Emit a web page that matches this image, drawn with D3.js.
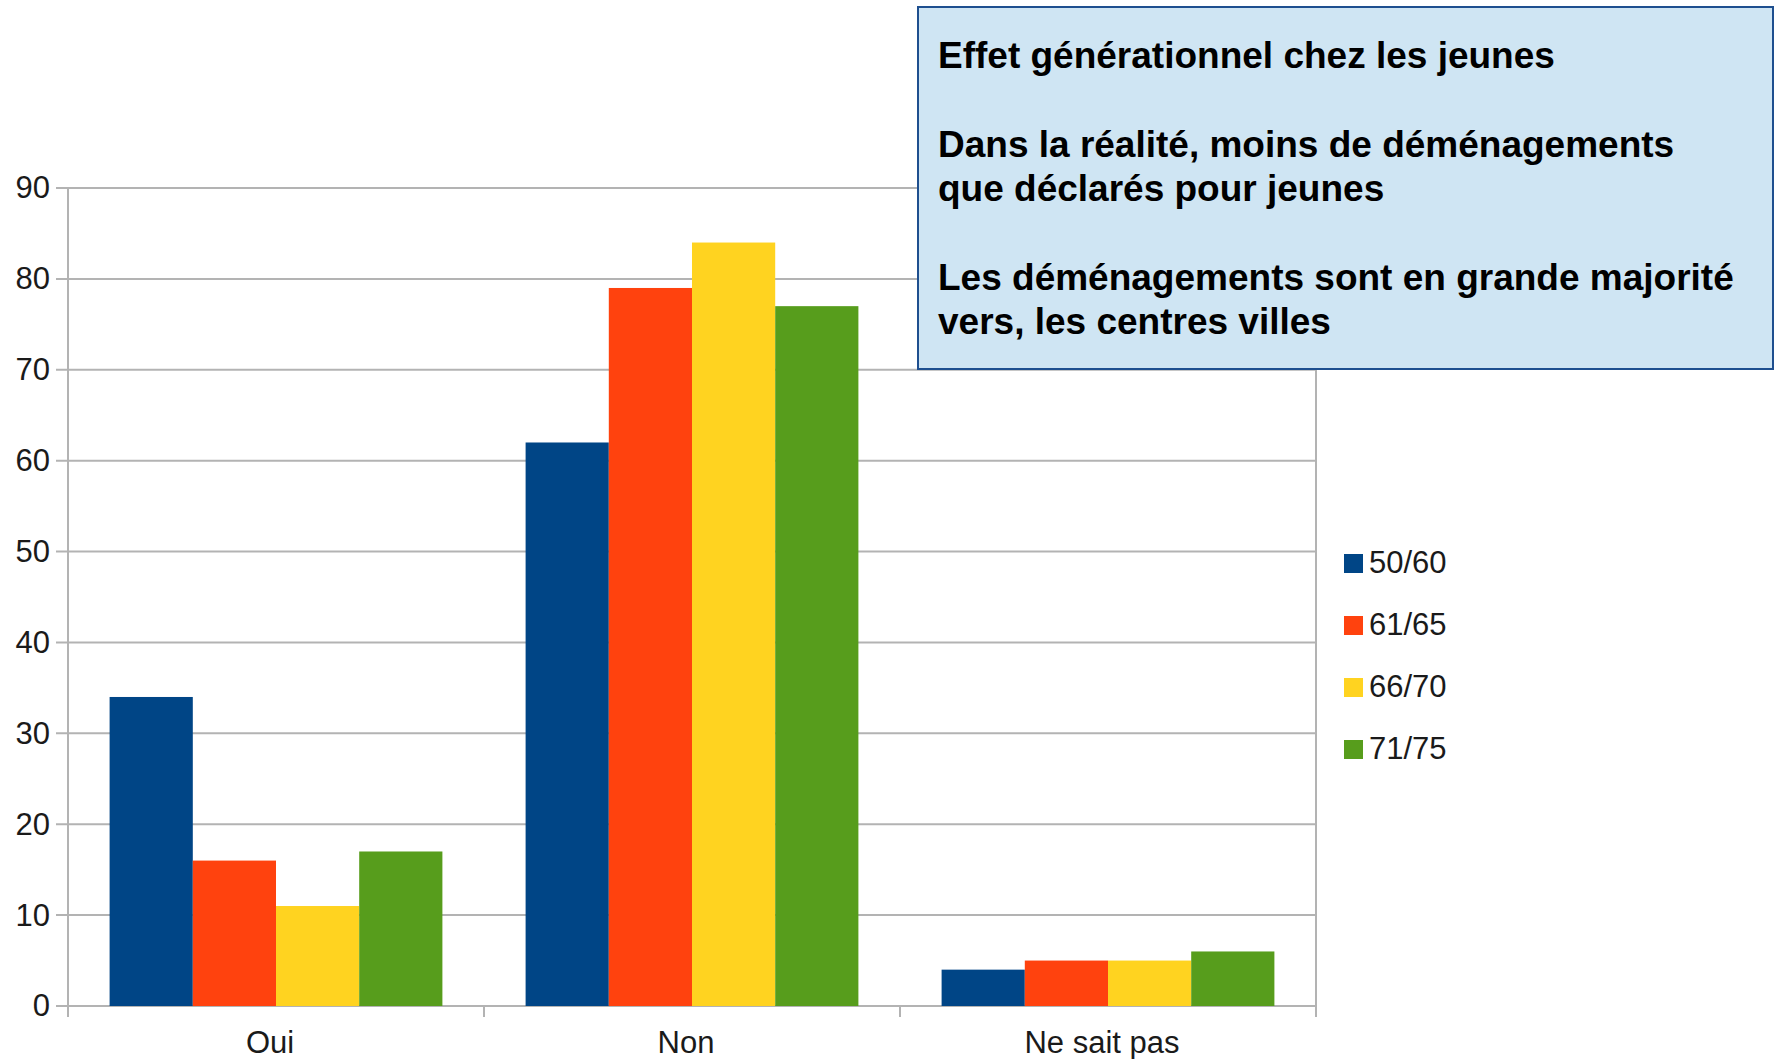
<!DOCTYPE html>
<html>
<head>
<meta charset="utf-8">
<script src="https://cdn.jsdelivr.net/npm/d3@7"></script>
<style>
  body { margin: 0; background: #ffffff; }
  svg { display: block; font-family: "Liberation Sans", Arial, sans-serif; }
</style>
</head>
<body>
<svg id="chart"></svg>
<script>
let outerWidth = 1781;
let outerHeight = 1059;
let margins = { top: 188, bottom: 53, left: 68, right: 465 };
let innerWidth = outerWidth - margins.left - margins.right;
let innerHeight = outerHeight - margins.top - margins.bottom;

// data
let categories = ['Oui', 'Non', 'Ne sait pas'];
let series = ['50/60', '61/65', '66/70', '71/75'];
let v5060 = [34, 62, 4];
let v6165 = [16, 79, 5];
let v6670 = [11, 84, 5];
let v7175 = [17, 77, 6];
let yTicks = [0, 10, 20, 30, 40, 50, 60, 70, 80, 90];
let noteLines = [
  'Effet générationnel chez les jeunes',
  '',
  'Dans la réalité, moins de déménagements',
  'que déclarés pour jeunes',
  '',
  'Les déménagements sont en grande majorité',
  'vers, les centres villes'
];

let colors = ['#004586', '#ff420e', '#ffd320', '#579d1c'];
let allValues = [v5060, v6165, v6670, v7175];

let rows = [];
categories.forEach((c, i) => {
  series.forEach((s, j) => {
    rows.push({ cat: c, ser: s, value: allValues[j][i] });
  });
});

let svg = d3.select('#chart')
  .attr('width', outerWidth)
  .attr('height', outerHeight);

let inner = svg.append('g')
  .attr('transform', 'translate(' + margins.left + ',' + margins.top + ')');

let yScale = d3.scaleLinear()
  .domain([0, 90])
  .range([innerHeight, 0]);

let catScale = d3.scaleBand()
  .domain(categories)
  .range([0, innerWidth]);

let serScale = d3.scaleBand()
  .domain(series)
  .range([catScale.bandwidth() * 0.1, catScale.bandwidth() * 0.9]);

let colorScale = d3.scaleOrdinal().domain(series).range(colors);

let gridColor = '#b3b3b3';
let textColor = '#1a1a1a';
let labelFont = '"Liberation Sans", Arial, sans-serif';

// gridlines (with small outward tick on the left)
inner.append('g')
  .selectAll('line')
  .data(yTicks)
  .enter()
  .append('line')
  .attr('x1', -12)
  .attr('x2', innerWidth)
  .attr('y1', d => yScale(d))
  .attr('y2', d => yScale(d))
  .attr('stroke', gridColor)
  .attr('stroke-width', 2);

// y axis labels
let yAxis = d3.axisLeft(yScale).tickValues(yTicks).tickSize(0).tickPadding(18);
inner.append('g')
  .attr('class', 'y axis')
  .call(yAxis)
  .attr('font-size', 31)
  .attr('font-family', labelFont)
  .call(g => g.select('.domain').remove())
  .selectAll('text')
  .attr('fill', textColor);

// left and right vertical lines
inner.append('g')
  .selectAll('line')
  .data([0, innerWidth])
  .enter()
  .append('line')
  .attr('x1', d => d)
  .attr('x2', d => d)
  .attr('y1', yScale(90))
  .attr('y2', innerHeight + 11)
  .attr('stroke', gridColor)
  .attr('stroke-width', 2);

// category boundary ticks
inner.append('g')
  .selectAll('line')
  .data(categories.slice(0, -1))
  .enter()
  .append('line')
  .attr('x1', d => catScale(d) + catScale.bandwidth())
  .attr('x2', d => catScale(d) + catScale.bandwidth())
  .attr('y1', innerHeight)
  .attr('y2', innerHeight + 11)
  .attr('stroke', gridColor)
  .attr('stroke-width', 2);

// bars
inner.append('g')
  .selectAll('rect')
  .data(rows)
  .enter()
  .append('rect')
  .attr('x', d => catScale(d.cat) + serScale(d.ser))
  .attr('y', d => yScale(d.value))
  .attr('width', serScale.bandwidth())
  .attr('height', d => innerHeight - yScale(d.value))
  .attr('fill', d => colorScale(d.ser));

// x axis labels
let xAxis = d3.axisBottom(catScale).tickSize(0).tickPadding(25);
inner.append('g')
  .attr('class', 'x axis')
  .attr('transform', 'translate(-6,' + innerHeight + ')')
  .call(xAxis)
  .attr('font-size', 31)
  .attr('font-family', labelFont)
  .call(g => g.select('.domain').remove())
  .selectAll('text')
  .attr('fill', textColor);

// legend
let legend = svg.append('g')
  .attr('transform', 'translate(1344,554)');

let legendItems = legend.selectAll('g')
  .data(series)
  .enter()
  .append('g')
  .attr('transform', (d, i) => 'translate(0,' + i * 62 + ')');

legendItems.append('rect')
  .attr('width', 19)
  .attr('height', 19)
  .attr('fill', d => colorScale(d));

legendItems.append('text')
  .attr('x', 25)
  .attr('y', 19)
  .attr('font-size', 31)
  .attr('fill', textColor)
  .text(d => d);

// note box
svg.append('rect')
  .attr('x', 918)
  .attr('y', 7)
  .attr('width', 855)
  .attr('height', 362)
  .attr('fill', '#cfe5f3')
  .attr('stroke', '#1e4f8f')
  .attr('stroke-width', 2);

svg.append('g')
  .selectAll('text')
  .data(noteLines.map((t, i) => ({ t: t, i: i })).filter(d => d.t !== ''))
  .enter()
  .append('text')
  .attr('x', 938)
  .attr('y', d => 68 + d.i * 44.3)
  .attr('font-size', 37)
  .attr('font-weight', 'bold')
  .attr('fill', '#000000')
  .text(d => d.t);
</script>
</body>
</html>
